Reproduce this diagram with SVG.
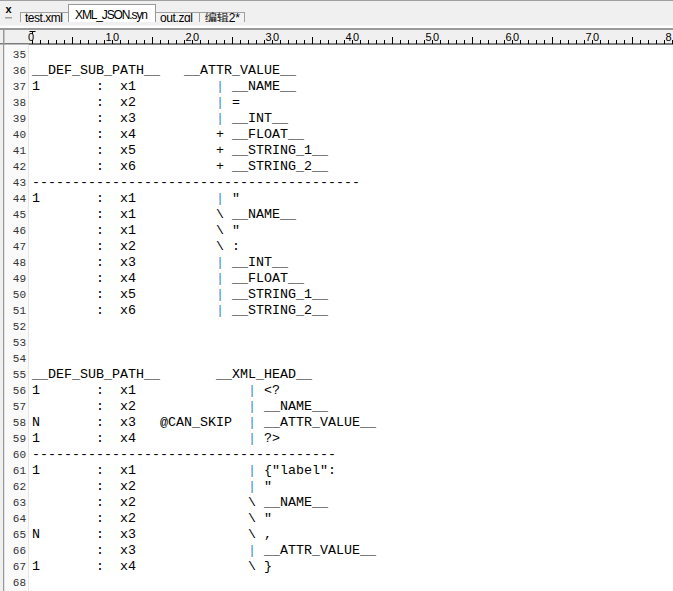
<svg xmlns="http://www.w3.org/2000/svg" width="673" height="591" viewBox="0 0 673 591">
<style>
.t{font-family:"Liberation Mono","Courier New",monospace;font-size:13.333px;fill:#000}
.p{fill:#3d8bd0}
.ln{font-family:"Liberation Mono","Courier New",monospace;font-size:11px;fill:#333;text-anchor:end}
.r{font-family:"Liberation Sans",Arial,sans-serif;font-size:11px;fill:#000}
.tab{font-family:"Liberation Sans",Arial,sans-serif;font-size:12px;fill:#000}
.e{text-anchor:end}
</style>
<defs>
<pattern id="tk" x="32" y="0" width="8" height="60" patternUnits="userSpaceOnUse"><rect x="0" y="0" width="1" height="60" fill="#000"/></pattern>
<pattern id="tk5" x="72" y="0" width="80" height="60" patternUnits="userSpaceOnUse"><rect x="0" y="0" width="1" height="60" fill="#000"/></pattern>
<clipPath id="tabclip"><rect x="0" y="0" width="673" height="22"/></clipPath>
</defs>
<rect x="0" y="0" width="673" height="591" fill="#fff"/>
<g id="tabbar">
<rect x="0" y="0" width="673" height="26" fill="#f0f0f0"/>
<rect x="0" y="0" width="673" height="1" fill="#a0a0a0"/>
<text x="8.5" y="13" text-anchor="middle" font-family="Liberation Sans,Arial,sans-serif" font-size="11" font-weight="bold" fill="#000">x</text>
<rect x="5" y="17" width="7" height="1.5" fill="#a0a0a0"/>
<g clip-path="url(#tabclip)">
<rect x="20.5" y="12.5" width="48" height="20" fill="#f3f3f3" stroke="#a0a0a0"/>
<text class="tab" x="25" y="21.5" textLength="38">test.xml</text>
<rect x="155.5" y="12.5" width="44" height="20" fill="#f3f3f3" stroke="#a0a0a0"/>
<text class="tab" x="160" y="21.5" textLength="33">out.zgl</text>
<rect x="199.5" y="12.5" width="45" height="20" fill="#f3f3f3" stroke="#a0a0a0"/>
<text class="tab" x="205" y="21.5" font-family="Liberation Sans,'Noto Sans CJK SC',sans-serif" textLength="35">编辑2*</text>
<rect x="68.5" y="4.5" width="87" height="25" fill="#fff" stroke="#999"/>
<text class="tab" x="75" y="19" textLength="73">XML_JSON.syn</text>
</g>
<rect x="0" y="25.6" width="673" height="2" fill="#fff"/>
</g>
<g id="ruler">
<rect x="0" y="28" width="673" height="2" fill="#9a9a9a"/>
<rect x="0" y="30" width="673" height="13.5" fill="#f0f0f0"/>
<rect x="32" y="40" width="641" height="4" fill="url(#tk)"/>
<rect x="72" y="37" width="601" height="7" fill="url(#tk5)"/>
<rect x="0" y="43.5" width="673" height="1" fill="#000"/>
<rect x="29.5" y="31" width="6" height="1" fill="#000"/>
<rect x="32" y="31" width="1" height="3" fill="#000"/>
<text class="r"><tspan x="32.5" y="41" text-anchor="middle">0</tspan>
<tspan x="111.5" y="41" class="e">1</tspan><tspan x="113" y="41">0</tspan>
<tspan x="191.5" y="41" class="e">2</tspan><tspan x="193" y="41">0</tspan>
<tspan x="271.5" y="41" class="e">3</tspan><tspan x="273" y="41">0</tspan>
<tspan x="351.5" y="41" class="e">4</tspan><tspan x="353" y="41">0</tspan>
<tspan x="431.5" y="41" class="e">5</tspan><tspan x="433" y="41">0</tspan>
<tspan x="511.5" y="41" class="e">6</tspan><tspan x="513" y="41">0</tspan>
<tspan x="591.5" y="41" class="e">7</tspan><tspan x="593" y="41">0</tspan>
<tspan x="671.5" y="41" class="e">8</tspan></text>
</g>
<g id="gutter">
<rect x="0" y="44.5" width="3" height="547" fill="#f0f0f0"/>
<rect x="3" y="28" width="1.5" height="563" fill="#999"/>
<rect x="4.5" y="44.5" width="23.5" height="547" fill="#fafafa"/>
<rect x="28" y="44.5" width="1" height="547" fill="#e6e6e6"/>
<text class="ln">
<tspan x="26" y="57.5">35</tspan><tspan x="26" y="73.5">36</tspan><tspan x="26" y="89.5">37</tspan><tspan x="26" y="105.5">38</tspan><tspan x="26" y="121.5">39</tspan><tspan x="26" y="137.5">40</tspan><tspan x="26" y="153.5">41</tspan><tspan x="26" y="169.5">42</tspan><tspan x="26" y="185.5">43</tspan><tspan x="26" y="201.5">44</tspan><tspan x="26" y="217.5">45</tspan><tspan x="26" y="233.5">46</tspan><tspan x="26" y="249.5">47</tspan><tspan x="26" y="265.5">48</tspan><tspan x="26" y="281.5">49</tspan><tspan x="26" y="297.5">50</tspan><tspan x="26" y="313.5">51</tspan><tspan x="26" y="329.5">52</tspan><tspan x="26" y="345.5">53</tspan><tspan x="26" y="361.5">54</tspan><tspan x="26" y="377.5">55</tspan><tspan x="26" y="393.5">56</tspan><tspan x="26" y="409.5">57</tspan><tspan x="26" y="425.5">58</tspan><tspan x="26" y="441.5">59</tspan><tspan x="26" y="457.5">60</tspan><tspan x="26" y="473.5">61</tspan><tspan x="26" y="489.5">62</tspan><tspan x="26" y="505.5">63</tspan><tspan x="26" y="521.5">64</tspan><tspan x="26" y="537.5">65</tspan><tspan x="26" y="553.5">66</tspan><tspan x="26" y="569.5">67</tspan><tspan x="26" y="585.5">68</tspan>
</text>
</g>
<g id="code">
<text class="t" y="73.5"><tspan x="32">__DEF_SUB_PATH__</tspan><tspan x="184">__ATTR_VALUE__</tspan></text>
<text class="t" y="89.5"><tspan x="32">1</tspan><tspan x="96">:</tspan><tspan x="120">x1</tspan><tspan x="216" class="p">|</tspan><tspan x="232">__NAME__</tspan></text>
<text class="t" y="105.5"><tspan x="96">:</tspan><tspan x="120">x2</tspan><tspan x="216" class="p">|</tspan><tspan x="232">=</tspan></text>
<text class="t" y="121.5"><tspan x="96">:</tspan><tspan x="120">x3</tspan><tspan x="216" class="p">|</tspan><tspan x="232">__INT__</tspan></text>
<text class="t" y="137.5"><tspan x="96">:</tspan><tspan x="120">x4</tspan><tspan x="216">+</tspan><tspan x="232">__FLOAT__</tspan></text>
<text class="t" y="153.5"><tspan x="96">:</tspan><tspan x="120">x5</tspan><tspan x="216">+</tspan><tspan x="232">__STRING_1__</tspan></text>
<text class="t" y="169.5"><tspan x="96">:</tspan><tspan x="120">x6</tspan><tspan x="216">+</tspan><tspan x="232">__STRING_2__</tspan></text>
<text class="t" y="185.5" x="32">-----------------------------------------</text>
<text class="t" y="201.5"><tspan x="32">1</tspan><tspan x="96">:</tspan><tspan x="120">x1</tspan><tspan x="216" class="p">|</tspan><tspan x="232">"</tspan></text>
<text class="t" y="217.5"><tspan x="96">:</tspan><tspan x="120">x1</tspan><tspan x="216">\</tspan><tspan x="232">__NAME__</tspan></text>
<text class="t" y="233.5"><tspan x="96">:</tspan><tspan x="120">x1</tspan><tspan x="216">\</tspan><tspan x="232">"</tspan></text>
<text class="t" y="249.5"><tspan x="96">:</tspan><tspan x="120">x2</tspan><tspan x="216">\</tspan><tspan x="232">:</tspan></text>
<text class="t" y="265.5"><tspan x="96">:</tspan><tspan x="120">x3</tspan><tspan x="216" class="p">|</tspan><tspan x="232">__INT__</tspan></text>
<text class="t" y="281.5"><tspan x="96">:</tspan><tspan x="120">x4</tspan><tspan x="216" class="p">|</tspan><tspan x="232">__FLOAT__</tspan></text>
<text class="t" y="297.5"><tspan x="96">:</tspan><tspan x="120">x5</tspan><tspan x="216" class="p">|</tspan><tspan x="232">__STRING_1__</tspan></text>
<text class="t" y="313.5"><tspan x="96">:</tspan><tspan x="120">x6</tspan><tspan x="216" class="p">|</tspan><tspan x="232">__STRING_2__</tspan></text>
<text class="t" y="377.5"><tspan x="32">__DEF_SUB_PATH__</tspan><tspan x="216">__XML_HEAD__</tspan></text>
<text class="t" y="393.5"><tspan x="32">1</tspan><tspan x="96">:</tspan><tspan x="120">x1</tspan><tspan x="248" class="p">|</tspan><tspan x="264">&lt;?</tspan></text>
<text class="t" y="409.5"><tspan x="96">:</tspan><tspan x="120">x2</tspan><tspan x="248" class="p">|</tspan><tspan x="264">__NAME__</tspan></text>
<text class="t" y="425.5"><tspan x="32">N</tspan><tspan x="96">:</tspan><tspan x="120">x3</tspan><tspan x="160">@CAN_SKIP</tspan><tspan x="248" class="p">|</tspan><tspan x="264">__ATTR_VALUE__</tspan></text>
<text class="t" y="441.5"><tspan x="32">1</tspan><tspan x="96">:</tspan><tspan x="120">x4</tspan><tspan x="248" class="p">|</tspan><tspan x="264">?&gt;</tspan></text>
<text class="t" y="457.5" x="32">--------------------------------------</text>
<text class="t" y="473.5"><tspan x="32">1</tspan><tspan x="96">:</tspan><tspan x="120">x1</tspan><tspan x="248" class="p">|</tspan><tspan x="264">{"label":</tspan></text>
<text class="t" y="489.5"><tspan x="96">:</tspan><tspan x="120">x2</tspan><tspan x="248" class="p">|</tspan><tspan x="264">"</tspan></text>
<text class="t" y="505.5"><tspan x="96">:</tspan><tspan x="120">x2</tspan><tspan x="248">\</tspan><tspan x="264">__NAME__</tspan></text>
<text class="t" y="521.5"><tspan x="96">:</tspan><tspan x="120">x2</tspan><tspan x="248">\</tspan><tspan x="264">"</tspan></text>
<text class="t" y="537.5"><tspan x="32">N</tspan><tspan x="96">:</tspan><tspan x="120">x3</tspan><tspan x="248">\</tspan><tspan x="264">,</tspan></text>
<text class="t" y="553.5"><tspan x="96">:</tspan><tspan x="120">x3</tspan><tspan x="248" class="p">|</tspan><tspan x="264">__ATTR_VALUE__</tspan></text>
<text class="t" y="569.5"><tspan x="32">1</tspan><tspan x="96">:</tspan><tspan x="120">x4</tspan><tspan x="248">\</tspan><tspan x="264">}</tspan></text>
</g>
</svg>
